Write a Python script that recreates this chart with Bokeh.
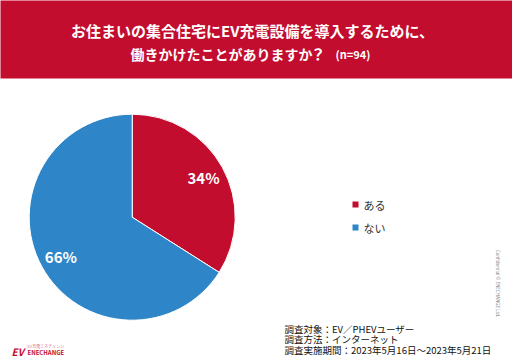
import math
from bokeh.plotting import figure
from bokeh.models import Range1d, ColumnDataSource
from bokeh.core.properties import value
from bokeh.embed import file_html
from bokeh.resources import INLINE

# ---- data ----
categories = ["ある", "ない"]
percents = [34, 66]
colors = ["#C30D2F", "#2E86C8"]
title_line1 = "お住まいの集合住宅にEV充電設備を導入するために、"
title_line2 = "働きかけたことがありますか"
title_q = "？"
sample_note = "(n=94)"
footer_lines = ["調査対象：EV／PHEVユーザー", "調査方法：インターネット", "調査実施期間：2023年5月16日～2023年5月21日"]

W, H = 512, 362
JP = value("Noto Sans CJK JP")

def Y(py):
    return H - py

p = figure(width=W, height=H, output_backend="svg", toolbar_location=None,
           x_range=Range1d(0, W), y_range=Range1d(0, H), min_border=0)
p.axis.visible = False
p.grid.visible = False
p.outline_line_color = None
p.background_fill_color = "white"
p.border_fill_color = "white"

# banner
p.quad(left=[-5], right=[W + 5], bottom=[Y(78)], top=[H + 5], fill_color="#C30D2F", line_color=None)
p.text(x=[252], y=[Y(30)], text=[title_line1], text_font=JP, text_font_style="bold",
       text_font_size="15px", text_color="white", text_align="center", text_baseline="middle")
p.text(x=[130], y=[Y(53)], text=[title_line2], text_font=JP, text_font_style="bold",
       text_font_size="14px", text_color="white", text_align="left", text_baseline="middle")
p.text(x=[310], y=[Y(53)], text=[title_q], text_font=JP, text_font_style="bold",
       text_font_size="15px", text_color="white", text_align="left", text_baseline="middle")
p.text(x=[335], y=[Y(53)], text=[sample_note], text_font=JP, text_font_style="bold",
       text_font_size="11px", text_color="white", text_align="left", text_baseline="middle")

# pie
cx, cy, r = 131.7, Y(216.7), 103
total = sum(percents)
starts, ends, lx, ly, labels = [], [], [], [], []
a = math.pi / 2
for v in percents:
    span = 2 * math.pi * v / total
    starts.append(a)
    ends.append(a - span)
    mid = a - span / 2
    lx.append(cx + 0.79 * r * math.cos(mid))
    ly.append(cy + 0.79 * r * math.sin(mid))
    labels.append(f"{v}%")
    a -= span
src = ColumnDataSource(dict(start=starts, end=ends, color=colors, lx=lx, ly=ly, label=labels))
p.wedge(x=cx, y=cy, radius=r, start_angle="start", end_angle="end", direction="clock",
        fill_color="color", line_color="white", line_width=1, source=src)
p.text(x="lx", y="ly", text="label", text_font=JP, text_font_style="bold", text_font_size="15px",
       text_color="white", text_align="center", text_baseline="middle", source=src)

# legend
leg_y = [Y(204), Y(227)]
p.rect(x=[355] * len(categories), y=leg_y, width=6, height=6, fill_color=colors, line_color=None)
p.text(x=[363] * len(categories), y=leg_y, text=categories, text_font=JP, text_font_size="11px",
       text_color="#333333", text_align="left", text_baseline="middle")

# footer
p.text(x=[284] * 3, y=[Y(328), Y(338.5), Y(349)], text=footer_lines, text_font=JP, text_font_size="9.5px",
       text_color="#111111", text_align="left", text_baseline="middle")

# logo
p.text(x=[11], y=[Y(351)], text=["EV"], text_font=JP, text_font_style="bold italic", text_font_size="10px",
       text_color="#C30D2F", text_align="left", text_baseline="middle")
p.text(x=[27], y=[Y(351.5)], text=["ENECHANGE"], text_font=JP, text_font_style="bold", text_font_size="6px",
       text_color="#C30D2F", text_align="left", text_baseline="middle")
p.text(x=[27], y=[Y(345)], text=["EV充電エネチェンジ"], text_font=JP, text_font_size="4px",
       text_color="#E07080", text_align="left", text_baseline="middle")

# confidential
p.text(x=[497], y=[Y(283)], text=["Confidential © ENECHANGE Ltd."], text_font=value("Noto Sans"),
       text_font_size="4.5px", text_color="#888888", angle=-math.pi / 2,
       text_align="center", text_baseline="middle")

open("out.html", "w").write(file_html(p, INLINE))
